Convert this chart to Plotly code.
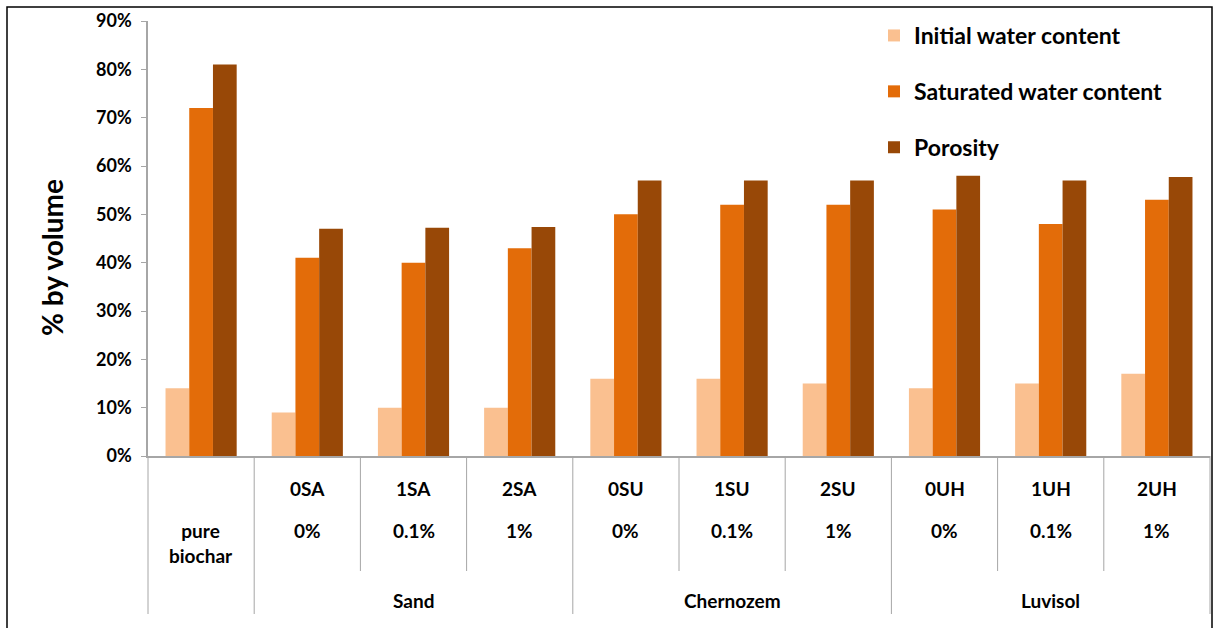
import plotly.graph_objects as go

# Sample codes, biochar doses and soil groups
codes = ["pure<br>biochar", "0SA", "1SA", "2SA", "0SU", "1SU", "2SU", "0UH", "1UH", "2UH"]
doses = ["", "0%", "0.1%", "1%", "0%", "0.1%", "1%", "0%", "0.1%", "1%"]
soils = ["Sand", "Chernozem", "Luvisol"]
soil_centres = [2, 5, 8]

# Water content and porosity, % by volume
initial_wc = [14, 9, 10, 10, 16, 16, 15, 14, 15, 17]
saturated_wc = [72, 41, 40, 43, 50, 52, 52, 51, 48, 53]
porosity = [81, 47, 47.2, 47.4, 57, 57, 57, 58, 57, 57.7]

series = [
    ("Initial water content", initial_wc, "#FAC090"),
    ("Saturated water content", saturated_wc, "#E36C09"),
    ("Porosity", porosity, "#984807"),
]

FONT = "Lato"
W, H = 1216, 628
L, R, T, B = 148, 6, 21, 172
PW, PH = W - L - R, H - T - B


def px_x(px):
    return (px - L) / PW


def px_y(py):
    return (H - B - py) / PH


xs = list(range(len(codes)))
fig = go.Figure()
for i, (name, vals, col) in enumerate(series):
    fig.add_trace(go.Bar(
        x=xs, y=vals, name=name, legendgroup=name,
        marker=dict(color=col, line=dict(width=0)),
    ))

shapes = []
n = len(codes)
long_edges = {0, 1, 4, 7, 10}
for k in range(n + 1):
    bottom = 614 if k in long_edges else 571
    shapes.append(dict(
        type="line", xref="paper", yref="paper",
        x0=k / n, x1=k / n, y0=0, y1=px_y(bottom),
        line=dict(color="#A6A6A6", width=1),
    ))
# outer frame of the chart
shapes.append(dict(
    type="rect", xref="paper", yref="paper",
    x0=px_x(7), x1=px_x(1212), y0=px_y(640), y1=px_y(7),
    line=dict(color="#000000", width=1.5), fillcolor="rgba(0,0,0,0)",
))

annotations = []
lab_font = dict(family=FONT, size=19, color="#000000", weight="bold")
for i, (c, d) in enumerate(zip(codes, doses)):
    if i == 0:
        annotations.append(dict(
            x=i, y=px_y(543), xref="x", yref="paper", text=c,
            showarrow=False, font=lab_font, xanchor="center", yanchor="middle",
        ))
        continue
    annotations.append(dict(
        x=i, y=px_y(488), xref="x", yref="paper", text=c,
        showarrow=False, font=lab_font, xanchor="center", yanchor="middle",
    ))
    annotations.append(dict(
        x=i, y=px_y(530), xref="x", yref="paper", text=d,
        showarrow=False, font=lab_font, xanchor="center", yanchor="middle",
    ))
for s, xc in zip(soils, soil_centres):
    annotations.append(dict(
        x=xc, y=px_y(600), xref="x", yref="paper", text=s,
        showarrow=False, font=lab_font, xanchor="center", yanchor="middle",
    ))
annotations.append(dict(
    x=px_x(52), y=px_y(258), xref="paper", yref="paper", text="% by volume",
    textangle=-90, showarrow=False,
    font=dict(family=FONT, size=28, color="#000000", weight="bold"),
    xanchor="center", yanchor="middle",
))

fig.update_layout(
    width=W, height=H,
    margin=dict(l=L, r=R, t=T, b=B, autoexpand=False),
    paper_bgcolor="white", plot_bgcolor="white",
    barmode="group", bargap=0.33, bargroupgap=0,
    font=dict(family=FONT, color="#000000"),
    showlegend=True,
    legend=dict(
        x=px_x(874), y=px_y(14), xanchor="left", yanchor="top",
        xref="paper", yref="paper",
        font=dict(family=FONT, size=23, color="#000000", weight="bold"),
        itemwidth=30, tracegroupgap=23, bgcolor="rgba(0,0,0,0)",
        traceorder="grouped",
    ),
    xaxis=dict(
        range=[-0.5, n - 0.5], showticklabels=False, ticks="",
        showgrid=False, zeroline=False, showline=True,
        linecolor="#A6A6A6", linewidth=1.5, fixedrange=True,
    ),
    yaxis=dict(
        range=[0, 90], dtick=10, ticksuffix="%", showgrid=False,
        zeroline=False, showline=True, linecolor="#A6A6A6", linewidth=1.5,
        ticks="outside", ticklen=5, tickcolor="#A6A6A6", tickwidth=1,
        tickfont=dict(family=FONT, size=18, color="#000000", weight="bold"),
        ticklabelstandoff=6,
    ),
    shapes=shapes,
    annotations=annotations,
)

fig.write_html("out.html")
